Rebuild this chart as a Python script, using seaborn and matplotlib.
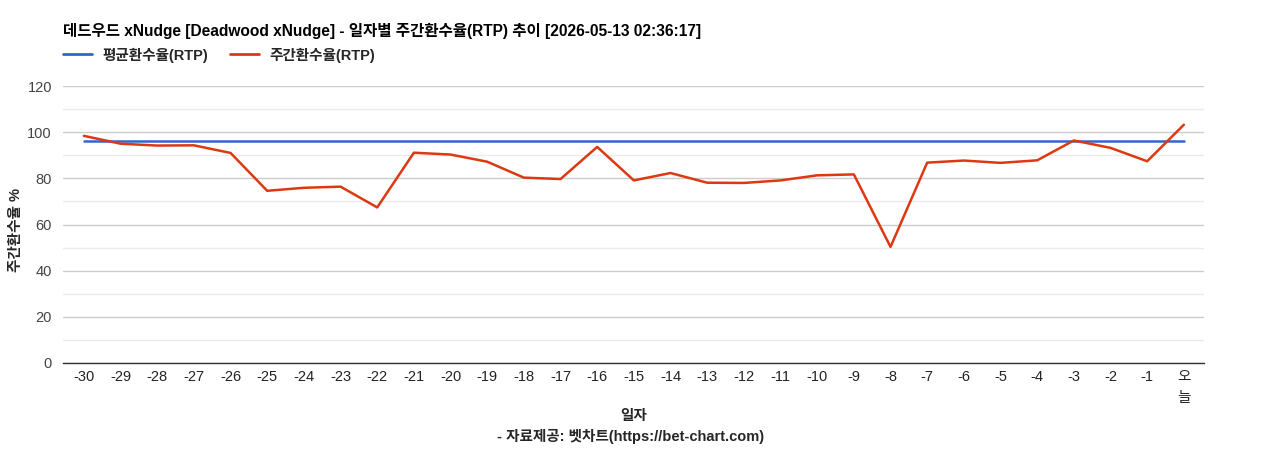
import matplotlib
matplotlib.use('Agg')
import matplotlib.pyplot as plt
import pandas as pd
import seaborn as sns
from matplotlib.lines import Line2D
from matplotlib.ticker import MultipleLocator

# Data
days = [f'{d}' for d in range(-30, 0)] + ['오\n늘']
weekly_rtp = [98.4, 95.0, 94.2, 94.3, 91.0, 74.6, 75.9, 76.4, 67.4, 91.1,
              90.3, 87.2, 80.3, 79.7, 93.6, 79.1, 82.3, 78.1, 78.0, 79.1,
              81.3, 81.7, 50.3, 86.8, 87.7, 86.7, 87.8, 96.4, 93.2, 87.4,
              103.2]
avg_rtp = [96.0] * len(days)

title = '데드우드 xNudge [Deadwood xNudge] - 일자별 주간환수율(RTP) 추이 [2026-05-13 02:36:17]'
series_names = ['평균환수율(RTP)', '주간환수율(RTP)']

df = pd.DataFrame({
  'day': list(range(len(days))) * 2,
  'value': avg_rtp + weekly_rtp,
  'series': [series_names[0]] * len(days) + [series_names[1]] * len(days),
})

sns.set_theme(style='white')
plt.rcParams['font.family'] = ['Liberation Sans', 'Noto Sans CJK KR', 'DejaVu Sans']

fig = plt.figure(figsize=(12.68, 4.5), dpi=100)
ax = fig.add_axes([63 / 1268, 1 - 363 / 450, 1141 / 1268, 277 / 450])

sns.lineplot(data=df, x='day', y='value', hue='series', ax=ax,
             palette=['#3366cc', '#dc3912'], linewidth=1.8, legend=False)

ax.set_xlim(-0.57, len(days) - 0.45)
ax.set_ylim(0, 120)
ax.yaxis.set_major_locator(MultipleLocator(20))
ax.yaxis.set_minor_locator(MultipleLocator(10))
ax.grid(which='major', axis='y', color='#cccccc', linewidth=1)
ax.grid(which='minor', axis='y', color='#ebebeb', linewidth=1)
ax.set_axisbelow(True)
for s in ['top', 'right', 'left']:
  ax.spines[s].set_visible(False)
ax.spines['bottom'].set_color('#333333')
ax.spines['bottom'].set_linewidth(1)

ax.set_xticks(range(len(days)))
ax.set_xticklabels(days, fontsize=10.5, color='#222222', va='top',
                   linespacing=1.6)
ax.tick_params(axis='x', length=0, pad=5)
ax.tick_params(axis='y', length=0, pad=8, labelsize=10.5, labelcolor='#444444')
ax.tick_params(axis='y', which='minor', length=0)

ax.set_xlabel('일자', fontsize=10.5, fontweight='bold')
ax.xaxis.set_label_coords(0.5, -(409 - 363) / 277, transform=ax.transAxes)
ax.set_ylabel('주간환수율 %', fontsize=10.5, fontweight='bold')
ax.yaxis.set_label_coords(-(63 - 23) / 1141, 0.48, transform=ax.transAxes)

fig.text(63 / 1268, 1 - 31 / 450, title, fontsize=11.2, fontweight='bold',
         ha='left', va='center', color='#000000')
fig.text(0.5 * (63 + 1204) / 1268 - 0.002, 1 - 437 / 450,
         '- 자료제공: 벳차트(https://bet-chart.com)', fontsize=10.5,
         fontweight='bold', ha='center', va='center')

handles = [Line2D([], [], color='#3366cc', linewidth=2),
           Line2D([], [], color='#dc3912', linewidth=2)]
fig.legend(handles, series_names, loc='center left',
           bbox_to_anchor=(57 / 1268, 1 - 55 / 450), ncol=2, frameon=False,
           prop={'size': 10.5, 'weight': 'bold'}, handlelength=2.0,
           handletextpad=0.7, columnspacing=1.5, borderaxespad=0)

fig.savefig('out.png', dpi=100)
